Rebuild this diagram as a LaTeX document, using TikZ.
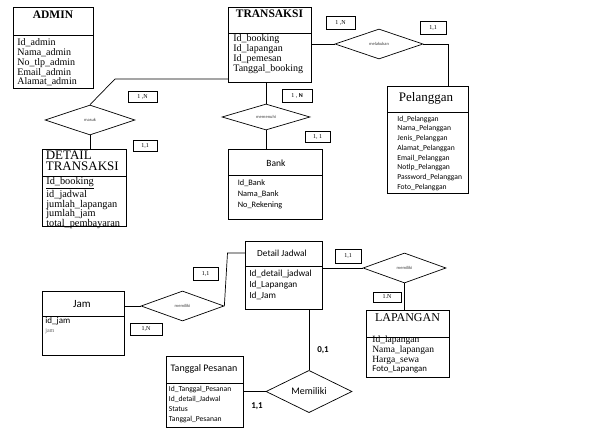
\documentclass[tikz,border=0pt]{standalone}
\usepackage{fontspec}
\setmainfont{Liberation Serif}
\newfontfamily\calfont{Carlito}
\usetikzlibrary{shapes.geometric}
\newcommand{\fsz}[2]{\fontsize{#1}{#2}\selectfont}
\tikzset{
  ent/.style={draw, line width=0.8pt, anchor=north west, inner sep=0pt},
  rel/.style={draw, diamond, inner sep=0pt, line width=0.7pt},
  card/.style={draw, line width=0.6pt, inner sep=0pt, font=\fsz{6}{6}},
  attr/.style={anchor=north west, align=left, inner sep=0pt},
  ttl/.style={inner sep=0pt},
  lbl/.style={inner sep=0pt, text=black!75, font=\calfont\fsz{4.5}{5}},
}

\begin{document}
\begin{tikzpicture}[x=1pt,y=-1pt,line width=0.7pt]
  \useasboundingbox (0,0) rectangle (592,433);

  %%%%%%%%%%%%%ADMIN%%%%%%%%%%%%%%%%%%%%%%
  \node[ent, minimum width=80pt, minimum height=81pt] (admin) at (13,7) {};
  \draw (admin.west |- 0,35) -- (admin.east |- 0,35);
  \node[ttl, font=\bfseries\fsz{11.5}{12}] (admint) at (53,15) {ADMIN};
  \node[attr, font=\fsz{10}{9.8}] (admina) at (17,38.5)
    {Id\_admin\\Nama\_admin\\No\_tlp\_admin\\Email\_admin\\Alamat\_admin};

  %%%%%%%%%%%%%TRANSAKSI%%%%%%%%%%%%%%%%%%%%%%
  \node[ent, minimum width=83pt, minimum height=75pt] (trans) at (228,7) {};
  \draw (trans.west |- 0,33) -- (trans.east |- 0,33);
  \node[ttl, font=\bfseries\fsz{11.5}{12}] (transt) at (269.5,14) {TRANSAKSI};
  \node[attr, font=\fsz{10}{10}] (transa) at (233,34.5)
    {Id\_booking\\Id\_lapangan\\Id\_pemesan\\Tanggal\_booking};

  %%%%%%%%%%%%%Pelanggan%%%%%%%%%%%%%%%%%%%%%%
  \node[ent, minimum width=81pt, minimum height=107pt] (pel) at (387,86) {};
  \draw (pel.west |- 0,112) -- (pel.east |- 0,112);
  \node[ttl, font=\fsz{13}{13}] (pelt) at (426,98.5) {Pelanggan};
  \node[attr, font=\calfont\fsz{7.6}{9.75}] (pela) at (397,115.5)
    {Id\_Pelanggan\\Nama\_Pelanggan\\Jenis\_Pelanggan\\Alamat\_Pelanggan\\
     Email\_Pelanggan\\Notlp\_Pelanggan\\Password\_Pelanggan\\Foto\_Pelanggan};

  %%%%%%%%%%%%%DETAIL TRANSAKSI%%%%%%%%%%%%%%%%%%%%%%
  \node[ent, minimum width=84pt, minimum height=77pt] (dt) at (42,149) {};
  \draw (dt.west |- 0,176) -- (dt.east |- 0,176);
  \node[attr, font=\fsz{13}{11.5}] (dtt) at (45.5,150.5) {DETAIL\\TRANSAKSI};
  \node[attr, font=\fsz{10.3}{9.75}] (dta) at (46,177.5)
    {\underline{Id\_booking}\\id\_jadwal\\jumlah\_lapangan\\jumlah\_jam\\total\_pembayaran};

  %%%%%%%%%%%%%Bank%%%%%%%%%%%%%%%%%%%%%%
  \node[ent, minimum width=94pt, minimum height=70pt] (bank) at (228,149) {};
  \draw (bank.west |- 0,175) -- (bank.east |- 0,175);
  \node[ttl, font=\calfont\fsz{9.5}{10}] (bankt) at (276,163) {Bank};
  \node[attr, font=\calfont\fsz{8.3}{11}] (banka) at (237.5,179)
    {Id\_Bank\\Nama\_Bank\\No\_Rekening};

  %%%%%%%%%%%%%Detail Jadwal%%%%%%%%%%%%%%%%%%%%%%
  \node[ent, minimum width=77pt, minimum height=68pt] (dj) at (245,241) {};
  \draw (dj.west |- 0,266) -- (dj.east |- 0,266);
  \node[ttl, font=\calfont\fsz{9.3}{10}] (djt) at (282,253) {Detail Jadwal};
  \node[attr, font=\calfont\fsz{9.3}{11}] (dja) at (249,269.5)
    {Id\_detail\_jadwal\\Id\_Lapangan\\Id\_Jam};

  %%%%%%%%%%%%%Jam%%%%%%%%%%%%%%%%%%%%%%
  \node[ent, minimum width=82pt, minimum height=64pt] (jam) at (42,291) {};
  \draw (jam.west |- 0,316) -- (jam.east |- 0,316);
  \node[ttl, font=\calfont\fsz{11}{11}] (jamt) at (82,304) {Jam};
  \node[attr, font=\calfont\fsz{9}{9}] (jama) at (45,317) {id\_jam};
  \node[attr, font=\fsz{6}{6}, text=black!60] (jamb) at (45,328.5) {jam};

  %%%%%%%%%%%%%Tanggal Pesanan%%%%%%%%%%%%%%%%%%%%%%
  \node[ent, minimum width=77pt, minimum height=71pt] (tp) at (166,356) {};
  \draw (tp.west |- 0,383) -- (tp.east |- 0,383);
  \node[ttl, font=\calfont\fsz{10}{10}] (tpt) at (204,369) {Tanggal Pesanan};
  \node[attr, font=\calfont\fsz{7.6}{10}] (tpa) at (168.5,385.5)
    {Id\_Tanggal\_Pesanan\\Id\_detail\_Jadwal\\Status\\Tanggal\_Pesanan};

  %%%%%%%%%%%%%LAPANGAN%%%%%%%%%%%%%%%%%%%%%%
  \node[ent, minimum width=83pt, minimum height=67pt] (lap) at (366,310) {};
  \draw (lap.west |- 0,337) -- (lap.east |- 0,337);
  \node[ttl, font=\fsz{12}{12}] (lapt) at (407.5,318) {LAPANGAN};
  \node[attr, font=\fsz{9.5}{9.8}] (lapa) at (372,335.5)
    {Id\_lapangan\\Nama\_lapangan\\Harga\_sewa\\{\calfont\fsz{8.8}{9.8}Foto\_Lapangan}};

  %%%%%%%%%%%%%relasi%%%%%%%%%%%%%%%%%%%%%%
  \node[rel, minimum width=88pt, minimum height=30pt] (mel) at (379,44) {};
  \node[lbl] at (mel) {melakukan};
  \node[rel, minimum width=90pt, minimum height=30pt] (masuk) at (90,120) {};
  \node[lbl] at (masuk) {masuk};
  \node[rel, minimum width=88pt, minimum height=26pt] (penuh) at (266,117) {};
  \node[lbl] at (penuh) {memenuhi};
  \node[rel, minimum width=83pt, minimum height=30pt] (miljam) at (182.5,306) {};
  \node[lbl] at (miljam) {memiliki};
  \node[rel, minimum width=83pt, minimum height=30pt] (millap) at (404.5,268) {};
  \node[lbl] at (millap) {memiliki};
  \node[rel, minimum width=86pt, minimum height=39pt, font=\calfont\fsz{10}{10}] (miltp) at (309,391.5) {Memiliki};

  %%%%%%%%%%%%%garis%%%%%%%%%%%%%%%%%%%%%%
  \coordinate (tekuk1) at (115,79);
  \coordinate (tekuk2) at (227.5,253);
  \draw (mel.west -| trans.east) -- (mel.west);
  \draw (mel.east) -| ([xshift=-20pt]pel.north east);
  \draw (masuk.north) -- (tekuk1) -- (tekuk1 -| trans.west);
  \draw (masuk.south) -- (masuk.south |- dt.north);
  \draw (penuh.north |- trans.south) -- (penuh.north);
  \draw (penuh.south) -- (penuh.south |- bank.north);
  \draw (miljam.west -| jam.east) -- (miljam.west);
  \draw (miljam.east) -- (tekuk2) -- (tekuk2 -| dj.west);
  \draw (millap.west -| dj.east) -- (millap.west);
  \draw (millap.south) -- (millap.south |- lap.north);
  \draw (miltp.north |- dj.south) -- (miltp.north);
  \draw (miltp.west -| tp.east) -- (miltp.west);

  %%%%%%%%%%%%%kardinalitas%%%%%%%%%%%%%%%%%%%%%%
  \node[card, minimum width=29pt, minimum height=13pt] (k1) at (340.5,22.5) {1 ,N};
  \node[card, minimum width=26pt, minimum height=13pt] (k2) at (433,27.5) {1,1};
  \node[card, minimum width=29pt, minimum height=11pt] (k3) at (142.5,96.5) {1 ,N};
  \node[card, minimum width=24pt, minimum height=11pt] (k4) at (145,145.5) {1,1};
  \node[card, minimum width=30pt, minimum height=13pt] (k5) at (297,95.5) {1 , {\calfont\bfseries N}};
  \node[card, minimum width=25pt, minimum height=11pt] (k6) at (317.5,136.5) {1, 1};
  \node[card, minimum width=25pt, minimum height=13pt] (k7) at (205.5,273.5) {1,1};
  \node[card, minimum width=32pt, minimum height=12pt] (k8) at (146,329) {1,N};
  \node[card, minimum width=26pt, minimum height=14pt] (k9) at (348,256) {1,1};
  \node[card, minimum width=28pt, minimum height=10pt] (k10) at (387,297) {1.N};
  \node[inner sep=0pt, font=\calfont\bfseries\fsz{9}{9}] (k11) at (323,350) {0,1};
  \node[inner sep=0pt, font=\calfont\bfseries\fsz{9}{9}] (k12) at (257,406) {1,1};
\end{tikzpicture}
\end{document}
